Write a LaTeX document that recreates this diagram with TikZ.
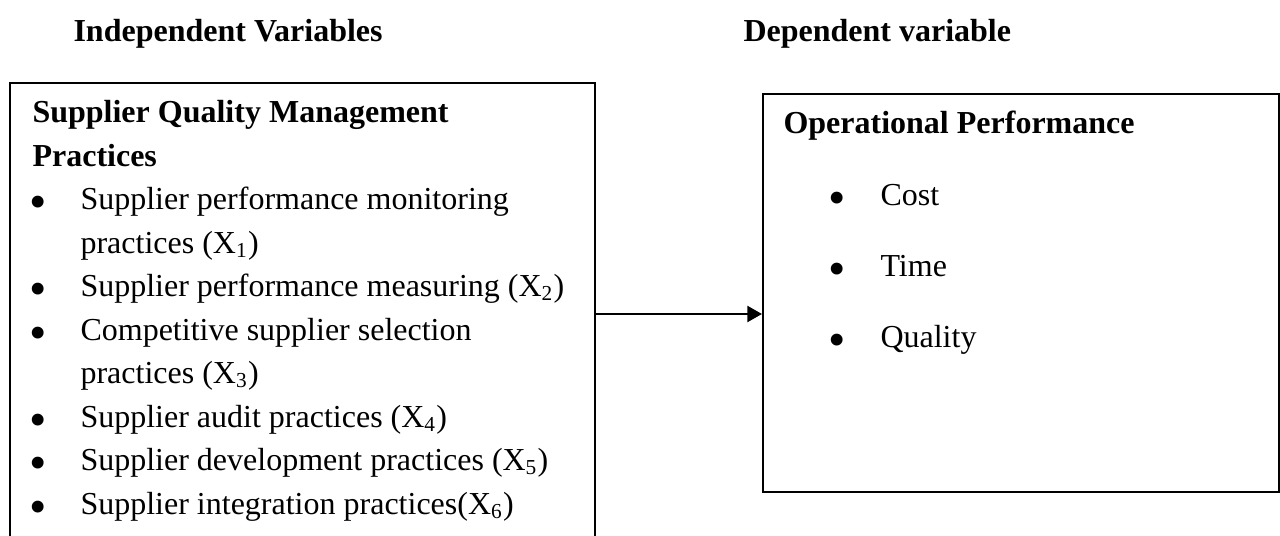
\documentclass[tikz,border=0pt]{standalone}
\usepackage{fontspec}
\setmainfont{Liberation Serif}
\usetikzlibrary{arrows.meta}
\newcommand{\bigbul}{\raisebox{-3.4pt}[0pt][0pt]{\scalebox{1.55}{•}}}
\tikzset{
  boxframe/.style={draw=black, line width=0.9pt, rectangle, anchor=north west, inner sep=0pt},
  txt/.style={anchor=base west, inner sep=0pt, font=\fontsize{12}{14}\selectfont},
  hdr/.style={anchor=base west, inner sep=0pt, font=\fontsize{12}{14}\selectfont\bfseries},
  bul/.style={anchor=base, inner sep=0pt, font=\fontsize{12}{14}\selectfont},
  link/.style={draw=black, line width=0.9pt, -{Triangle[length=5.5pt,width=6pt]}}
}
\begin{document}
\begin{tikzpicture}[x=0.375pt, y=-0.375pt]
\clip (0,0) rectangle (1280,536);
\useasboundingbox (0,0) rectangle (1280,536);
% headings
\node[hdr] (hind) at (73,41) {Independent Variables};
\node[hdr] (hdep) at (743,41) {Dependent variable};
% boxes
\node[boxframe, minimum width=219.4pt, minimum height=180pt] (sqm) at (9,82) {};
\node[boxframe, minimum width=193.5pt, minimum height=149.25pt] (op) at (762,93) {};
% left box text
\node[hdr] (l0) at (32,122) {Supplier Quality Management};
\node[hdr] (l1) at (32,166) {Practices};
\node[bul] (b1) at (38,209) {\bigbul};
\node[txt] (t1) at (80,209) {Supplier performance monitoring};
\node[txt] (t1b) at (80,253) {practices (X\textsubscript{1})};
\node[bul] (b2) at (38,296) {\bigbul};
\node[txt] (t2) at (80,296) {Supplier performance measuring (X\textsubscript{2})};
\node[bul] (b3) at (38,340) {\bigbul};
\node[txt] (t3) at (80,340) {Competitive supplier selection};
\node[txt] (t3b) at (80,383) {practices (X\textsubscript{3})};
\node[bul] (b4) at (38,427) {\bigbul};
\node[txt] (t4) at (80,427) {Supplier audit practices (X\textsubscript{4})};
\node[bul] (b5) at (38,470) {\bigbul};
\node[txt] (t5) at (80,470) {Supplier development practices (X\textsubscript{5})};
\node[bul] (b6) at (38,514) {\bigbul};
\node[txt] (t6) at (80,514) {Supplier integration practices(X\textsubscript{6})};
% right box text
\node[hdr] (r0) at (783,133) {Operational Performance};
\node[bul] (rb1) at (837,205) {\bigbul};
\node[txt] (r1) at (880,205) {Cost};
\node[bul] (rb2) at (837,276) {\bigbul};
\node[txt] (r2) at (880,276) {Time};
\node[bul] (rb3) at (837,347) {\bigbul};
\node[txt] (r3) at (880,347) {Quality};
% connector
\coordinate (ay) at (0,314);
\draw[link] (sqm.east |- ay) -- (op.west |- ay);
\end{tikzpicture}
\end{document}
